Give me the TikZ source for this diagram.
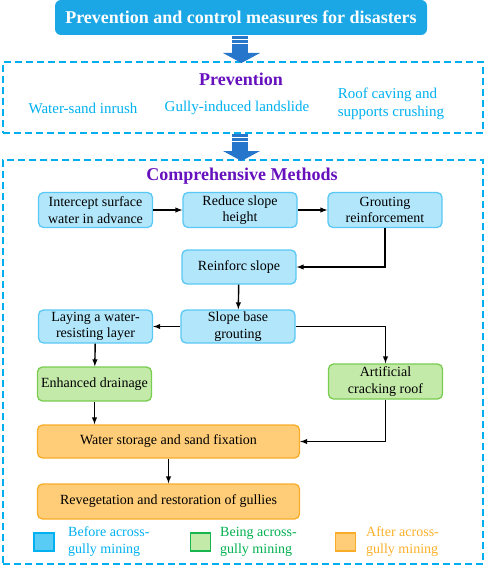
\documentclass[tikz,border=0pt]{standalone}
\usepackage{fontspec}
\setmainfont{Liberation Serif}
\newfontfamily\timesfont{Liberation Serif}
\usetikzlibrary{calc,arrows}

\definecolor{titleblue}{RGB}{27,167,229}
\definecolor{dashcyan}{RGB}{0,174,239}
\definecolor{headpurple}{RGB}{102,16,190}
\definecolor{fatblue}{RGB}{38,118,204}
\definecolor{bfill}{RGB}{178,230,250}
\definecolor{bdraw}{RGB}{90,200,245}
\definecolor{gfill}{RGB}{196,234,170}
\definecolor{gdraw}{RGB}{120,204,80}
\definecolor{ofill}{RGB}{255,205,120}
\definecolor{odraw}{RGB}{248,172,40}
\definecolor{legblue}{RGB}{0,176,240}
\definecolor{leggreen}{RGB}{0,176,80}
\definecolor{legorange}{RGB}{252,176,40}

\begin{document}
\begin{tikzpicture}[x=1pt,y=-1pt,font=\timesfont]
			\tikzset{
			    txt/.style={font=\timesfont\fontsize{14}{16.5}\selectfont,align=center,inner sep=0pt},
			    stepbox/.style={txt,draw=#1draw,fill=#1fill,line width=1.3pt,rounded corners=5pt,
			        minimum width=114pt,minimum height=35pt},
			    widebox/.style={stepbox=o,minimum width=262pt},
			    dashbox/.style={draw=dashcyan,line width=1.3pt,dash pattern=on 7pt off 4pt,inner sep=0pt},
			    head/.style={font=\timesfont\fontsize{18}{20}\selectfont\bfseries,text=headpurple,inner sep=0pt},
			    item/.style={font=\timesfont\fontsize{15}{18}\selectfont,text=legblue,align=left,inner sep=0pt},
			    link/.style={-latex,line width=1.4pt},
			    swatch/.style={draw=#1,line width=1.3pt,minimum width=20pt,minimum height=18pt,inner sep=0pt},
			    legtxt/.style={font=\timesfont\fontsize{14}{17}\selectfont,align=left,anchor=west,inner sep=0pt}
			}
			\useasboundingbox (0,0) rectangle (484,567);
			% title
			\node[fill=titleblue,rounded corners=6pt,minimum width=372pt,minimum height=35pt,
			      text=white,font=\timesfont\fontsize{18}{20}\selectfont\bfseries] (title) at (241,17.5)
			      {Prevention and control measures for disasters};
			% frames
			\node[dashbox,minimum width=480pt,minimum height=71pt] (prevframe) at (243,97.5) {};
			\node[dashbox,minimum width=480pt,minimum height=404pt] (methframe) at (243,362) {};
			% fat arrows
			\foreach \ya in {36,134}{
			    \fill[fatblue] (232,\ya) rectangle (248,\ya+17);
			    \fill[fatblue] (223,\ya+17) -- (260,\ya+17) -- (241.5,\ya+27) -- cycle;
			    \draw[white,line width=0.9pt] (232,\ya+3) -- (248,\ya+3) (232,\ya+7) -- (248,\ya+7);
			}
			% prevention
			\node[head] (prevhead) at (241,79) {Prevention};
			\node[item] (inrush) at (83,108) {Water-sand inrush};
			\node[item] (landslide) at (237,108) {Gully-induced landslide};
			\node[item] (caving) at (391,104) {Roof caving and\\supports crushing};
			% comprehensive methods
			\node[head] (methhead) at (242,176) {Comprehensive Methods};
			\node[stepbox=b] (intercept) at (95.5,210) {Intercept surface\\water in advance};
			\node[stepbox=b] (reduce) at (240,210) {Reduce slope\\height};
			\node[stepbox=b] (grouting) at (385,210) {Grouting\\reinforcement};
			\node[stepbox=b,minimum height=34pt] (reinforc) at (239,267) {Reinforc slope};
			\node[stepbox=b,minimum height=33pt] (slopebase) at (238,326.5) {Slope base\\grouting};
			\node[stepbox=b,minimum height=33pt] (laying) at (95.5,326.5) {Laying a water-\\resisting layer};
			\node[stepbox=g,minimum height=34pt] (drainage) at (94.5,384) {Enhanced drainage};
			\node[stepbox=g] (cracking) at (385.5,381.5) {Artificial\\cracking roof};
			\node[widebox,minimum height=33pt] (storage) at (168.5,441.5) {Water storage and sand fixation};
			\node[widebox] (reveg) at (168.5,501.5) {Revegetation and restoration of gullies};
			\draw[link] (intercept) -- (reduce);
			\draw[link] (reduce) -- (grouting);
			\draw[link] (grouting.south) |- (reinforc.east);
			\draw[link] (reinforc) -- (slopebase);
			\draw[link] (slopebase) -- (laying);
			\draw[link] (slopebase.east) -| (cracking.north);
			\draw[link] (laying) -- (drainage);
			\draw[link] (drainage.south) -- (drainage.south |- storage.north);
			\draw[link] (cracking.south) |- (storage.east);
			\draw[link] (storage) -- (reveg);
			% legend
			\node[swatch=legblue,fill=legblue!65] (keyb) at (44,542) {};
			\node[legtxt,text=legblue] (keybtxt) at (68,542) {Before across-\\gully mining};
			\node[swatch=leggreen!80!gdraw,fill=gfill] (keyg) at (200.5,542) {};
			\node[legtxt,text=leggreen] (keygtxt) at (220,542) {Being across-\\gully mining};
			\node[swatch=odraw,fill=ofill] (keyo) at (345.5,542) {};
			\node[legtxt,text=legorange] (keyotxt) at (366,542) {After across-\\gully mining};
\end{tikzpicture}
\end{document}
